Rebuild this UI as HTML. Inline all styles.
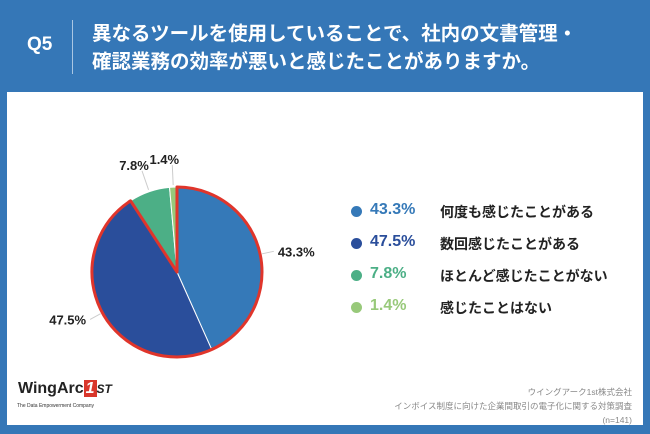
<!DOCTYPE html>
<html><head><meta charset="utf-8"><style>
body{margin:0;width:650px;height:434px;overflow:hidden;background:#3577b7;font-family:"Liberation Sans","Noto Sans CJK JP",sans-serif}
.abs{position:absolute}
</style></head><body>
<div class="abs" style="left:0;top:0;width:650px;height:92px;background:#3577b7">
 <div class="abs" style="left:27px;top:34px;color:#fff;font-size:19px;font-weight:bold">Q5</div>
 <div class="abs" style="left:72px;top:20px;width:1px;height:54px;background:#a9c6e3"></div>
 <div class="abs" style="left:92px;top:20px;color:#fff;font-size:19.5px;font-weight:bold;line-height:28px;white-space:nowrap">異なるツールを使用していることで、社内の文書管理・<br>確認業務の効率が悪いと感じたことがありますか。</div>
</div>
<div class="abs" style="left:7px;top:92px;width:636px;height:333px;background:#fff"></div>
<svg class="abs" style="left:0;top:0" width="650" height="434" id="pie"></svg>
<div class="abs" id="legend" style="left:0;top:0"></div>
<div class="abs" style="left:18px;top:380px;font-size:16px;font-weight:bold;color:#222">WingArc<span style="background:#d9362b;color:#fff;padding:0 2px;font-style:italic">1</span><span style="font-style:italic;font-size:12px">ST</span></div>
<div class="abs" style="left:17px;top:403px;font-size:5px;color:#333">The Data Empowerment Company</div>
<div class="abs" style="left:230px;width:402px;top:385px;font-size:8.5px;color:#888;text-align:right;line-height:14px">ウイングアーク1st株式会社<br>インボイス制度に向けた企業間取引の電子化に関する対策調査<br>(n=141)</div>
<script>
const categories=["何度も感じたことがある","数回感じたことがある","ほとんど感じたことがない","感じたことはない"];
const values=[43.3,47.5,7.8,1.4];
const labels=["43.3%","47.5%","7.8%","1.4%"];
const colors=["#3579b8","#2a4e9b","#4caf86","#98c97a"];
const NS="http://www.w3.org/2000/svg";
const svg=document.getElementById('pie');
const cx=177,cy=272,r=85;
const total=values.reduce((a,b)=>a+b,0);
function pt(f,rad){const a=f*2*Math.PI-Math.PI/2;return [cx+rad*Math.cos(a),cy+rad*Math.sin(a)];}
let acc=0;
values.forEach((v,i)=>{
 const f0=acc/total,f1=(acc+v)/total;acc+=v;
 const p0=pt(f0,r),p1=pt(f1,r),large=(f1-f0)>0.5?1:0;
 const p=document.createElementNS(NS,'path');
 p.setAttribute('d',`M${cx},${cy}L${p0[0]},${p0[1]}A${r},${r} 0 ${large} 1 ${p1[0]},${p1[1]}Z`);
 p.setAttribute('fill',colors[i]);p.setAttribute('stroke','#fff');p.setAttribute('stroke-width','1');
 
 
 svg.appendChild(p);
 const fm=(f0+f1)/2;const a=pt(fm,r+2),b=pt(fm,r+(v<10?22:14));
 const ln=document.createElementNS(NS,'line');
 ln.setAttribute('x1',a[0]);ln.setAttribute('y1',a[1]);ln.setAttribute('x2',b[0]);ln.setAttribute('y2',b[1]);
 ln.setAttribute('stroke','#ccc');
 
 
 svg.appendChild(ln);
 const t=document.createElementNS(NS,'text');
 const right=b[0]>=cx;
 let tx=b[0]+(right?4:-4),ty=b[1]+5;
 if(v<10){ty-=6;tx+=(right?0:-4);}
 t.setAttribute('x',tx);t.setAttribute('y',ty);
 t.setAttribute('text-anchor',v<10?'middle':(right?'start':'end'));
 t.setAttribute('font-size','13');t.setAttribute('font-weight','bold');t.setAttribute('fill','#222');
 t.textContent=labels[i];
 
 
 svg.appendChild(t);
});
const fEnd=(values[0]+values[1])/total;const pe=pt(fEnd,r),ps=pt(0,r),pm=pt(0.5,r);
const o=document.createElementNS(NS,'path');
o.setAttribute('d',`M${cx},${cy}L${ps[0]},${ps[1]}A${r},${r} 0 0 1 ${pm[0]},${pm[1]}A${r},${r} 0 0 1 ${pe[0]},${pe[1]}Z`);
o.setAttribute('fill','none');o.setAttribute('stroke','#e0352b');o.setAttribute('stroke-width','3');o.setAttribute('stroke-linejoin','round');


svg.appendChild(o);
const lg=document.getElementById('legend');
categories.forEach((c,i)=>{
 const row=document.createElement('div');
 
 
 row.style.cssText=`position:absolute;left:351px;top:${201+i*32}px;height:22px;width:280px;white-space:nowrap`;
 row.innerHTML=`<span style="position:absolute;left:0;top:5px;width:11px;height:11px;border-radius:50%;background:${colors[i]}"></span><span style="position:absolute;left:19px;top:0;font-size:16px;font-weight:bold;color:${colors[i]}">${labels[i]}</span><span style="position:absolute;left:89px;top:1px;font-size:14px;font-weight:bold;color:#222">${c}</span>`;
 lg.appendChild(row);
});
</script>
</body></html>
